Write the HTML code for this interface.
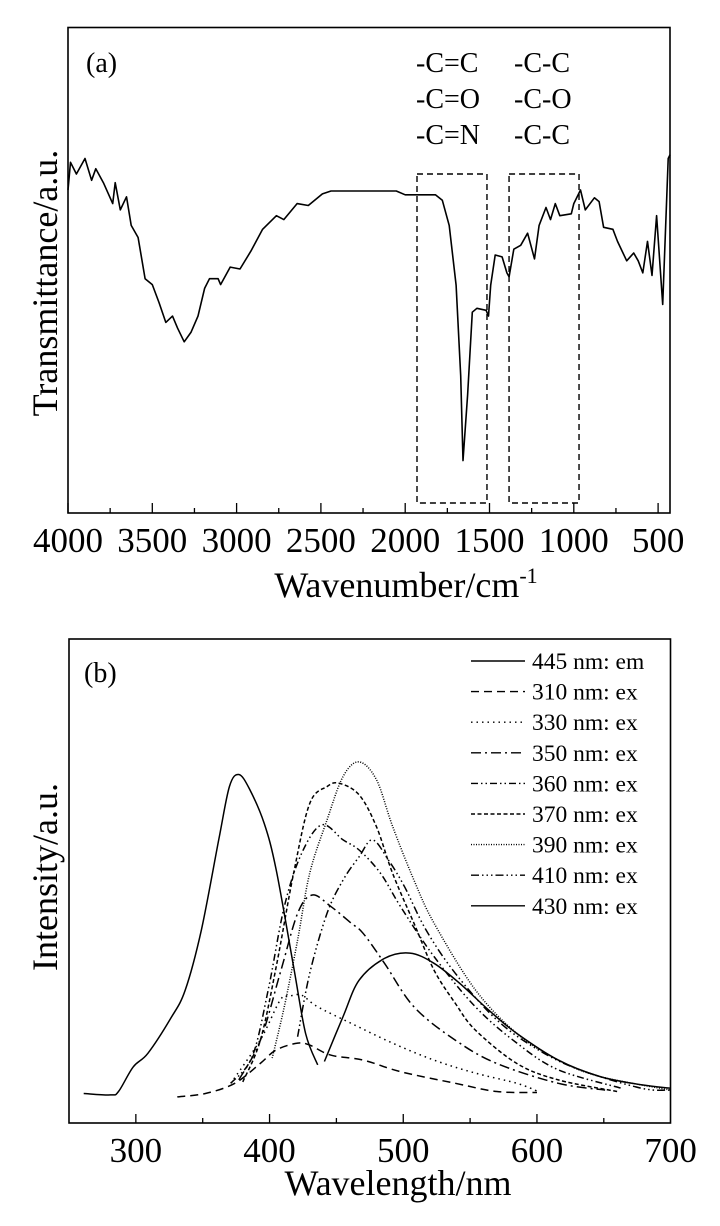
<!DOCTYPE html>
<html><head><meta charset="utf-8"><style>
html,body{margin:0;padding:0;background:#fff;}
svg{display:block;font-family:"Liberation Serif","DejaVu Serif",serif;}
</style></head><body>
<svg id="fig" width="720" height="1226" viewBox="0 0 720 1226" xmlns="http://www.w3.org/2000/svg">
<g id="panelA"></g>
<g id="panelB"></g>
</svg>
<script>
// ---- Panel (a) FTIR data ----
const ftirWavenumber = [4000,3985,3950,3899,3860,3835,3790,3735,3720,3690,3653,3625,3584,3543,3500,3460,3420,3380,3350,3311,3270,3229,3190,3161,3110,3095,3038,2980,2915,2846,2764,2720,2641,2575,2491,2440,2053,2000,1821,1780,1739,1698,1671,1657,1630,1602,1575,1520,1506,1493,1466,1425,1397,1384,1356,1315,1274,1233,1206,1165,1138,1110,1083,1015,1000,960,932,878,850,823,768,741,686,645,618,591,563,536,509,473,440,429];
const ftirValue = [66.6,72.3,69.9,73.1,68.6,71.0,68.1,63.8,68.1,62.5,65.2,59.3,56.8,48.3,47.1,43.4,39.3,40.6,38.1,35.3,37.3,40.6,46.3,48.3,48.3,47.1,50.7,50.3,54.0,58.5,61.3,60.5,63.8,63.4,65.8,66.4,66.4,65.6,65.6,64.5,59.3,47.0,28.3,10.8,24.3,41.4,42.2,41.8,40.6,47.0,53.2,52.8,49.5,48.7,54.4,55.2,57.7,52.4,59.3,63.0,60.5,63.8,61.3,61.7,63.8,66.6,62.5,65.0,64.2,58.9,58.5,56.0,52.0,53.6,52.0,49.5,56.0,49.0,61.3,43.0,73.1,73.9];
const ftirTicks = [4000,3500,3000,2500,2000,1500,1000,500];
const ftirBoxes = [[1930,1515],[1384,969]];
const bondLabels1 = ["-C=C","-C=O","-C=N"];
const bondLabels2 = ["-C-C","-C-O","-C-C"];

// ---- Panel (b) PL data ----
const plTicks = [300,400,500,600,700];
const emNm = [261,281,287,298,309,326,337,349,362,370,377,385,396,405,418,427,436];
const emVal = [6.1,5.8,6.5,11.6,14.4,21.6,27.5,39.9,58.5,69.5,72.0,69.0,61.9,52.3,32.3,18.5,12.0];
const ex310Nm = [331,352,374,393,405,421,430,446,470,498,539,570,600];
const ex310Val = [5.4,6.1,8.2,12.3,15.1,16.5,16.1,14.0,13.0,10.6,8.2,6.5,6.3];
const ex330Nm = [371,393,408,415,424,436,461,492,523,554,585,601];
const ex330Val = [8.2,17.1,25.4,26.2,26.4,24.0,20.6,16.5,13.0,10.3,8.2,6.5];
const ex350Nm = [377,393,408,421,432,446,461,470,486,508,539,570,616,651];
const ex350Val = [8.9,17.0,31.0,43.3,47.1,44.7,41.3,39.2,33.0,24.0,17.1,12.3,8.2,6.8];
const ex360Nm = [371,387,399,411,424,439,455,467,483,498,523,554,585,616,663];
const ex360Val = [8.2,13.7,27.5,44.7,55.7,61.6,58.5,56.4,51.6,44.7,34.4,24.0,16.5,11.0,7.2];
const ex370Nm = [380,393,405,418,430,443,452,467,480,492,508,523,539,554,585,616,660];
const ex370Val = [8.5,17.0,32.3,51.6,66.0,69.5,70.2,67.8,61.2,51.6,41.3,31.6,24.7,19.2,12.3,8.9,6.5];
const ex390Nm = [402,411,421,430,443,455,467,480,492,508,523,554,585,616,647,700];
const ex390Val = [13.4,24.0,37.8,51.6,62.6,71.6,74.6,70.9,61.3,50.2,41.3,27.5,18.5,13.0,9.6,6.8];
const ex410Nm = [421,430,443,455,467,477,489,501,517,539,570,601,632,678,700];
const ex410Val = [17.8,30.9,43.3,50.2,55.0,58.5,54.3,48.8,39.9,30.9,21.3,15.1,11.0,7.2,6.8];
const ex430Nm = [441,455,467,486,505,523,542,564,585,616,647,678,700];
const ex430Val = [12.7,22.0,29.5,34.0,35.1,33.0,28.9,23.3,18.5,13.0,9.6,7.9,7.2];
const legendLabels = ["445 nm: em","310 nm: ex","330 nm: ex","350 nm: ex","360 nm: ex","370 nm: ex","390 nm: ex","410 nm: ex","430 nm: ex"];

const NS="http://www.w3.org/2000/svg";
function mk(tag, parent, attrs){const e=document.createElementNS(NS,tag);for(const k in attrs)e.setAttribute(k,attrs[k]);parent.appendChild(e);return e;}

const xA = wn => 68 + (4000 - wn) * 0.1686;
const yA = v => 513 - v * 4.85;
const xB = nm => 69 + (nm - 250) * 1.337;
const yB = v => 1123 - v * 4.84;

const panelA = document.getElementById('panelA');
const panelB = document.getElementById('panelB');

// ---- panel a ----
const f = mk('rect', panelA, {x:68,y:27.5,width:602,height:485.5,fill:'none',stroke:'#000','stroke-width':1.6});


for (let w=4000; w>=500; w-=250){
  const major = (w%500===0);
  const t = mk('line', panelA, {x1:xA(w),x2:xA(w),y1:513,y2:513-(major?10:5),stroke:'#000','stroke-width':1.3});
  
  
}
ftirTicks.forEach(w=>{
  const t = mk('text', panelA, {x:xA(w),y:552,'font-size':35,'text-anchor':'middle'});
  t.textContent = w;
  
  
});
const dA = ftirWavenumber.map((w,i)=>(i?'L':'M')+xA(w).toFixed(1)+','+yA(ftirValue[i]).toFixed(1)).join('');
const pA = mk('path', panelA, {d:dA,fill:'none',stroke:'#000','stroke-width':1.6,'stroke-linejoin':'round'});


ftirBoxes.forEach(b=>{
  const r = mk('rect', panelA, {x:xA(b[0]),y:174,width:xA(b[1])-xA(b[0]),height:329,fill:'none',stroke:'#000','stroke-width':1.4,'stroke-dasharray':'6 4'});
  
  
});
bondLabels1.forEach((s,i)=>{
  const t = mk('text', panelA, {x:416,y:72+i*36,'font-size':28});
  t.textContent = s;
  
  
});
bondLabels2.forEach((s,i)=>{
  const t = mk('text', panelA, {x:514,y:72+i*36,'font-size':28});
  t.textContent = s;
  
  
});
const ta = mk('text', panelA, {x:86,y:72,'font-size':28}); ta.textContent='(a)';


const yl = mk('text', panelA, {x:0,y:0,'font-size':36,'text-anchor':'middle',transform:'translate(57,283) rotate(-90)'});
yl.textContent='Transmittance/a.u.';


const xl = mk('text', panelA, {x:406,y:597,'font-size':36,'text-anchor':'middle'});
xl.textContent='Wavenumber/cm';
const sup = mk('tspan', xl, {dy:-14,'font-size':22});
sup.textContent='-1';



// ---- panel b ----
const f2 = mk('rect', panelB, {x:69,y:639,width:601.5,height:484,fill:'none',stroke:'#000','stroke-width':1.6});


for (let n=300; n<700; n+=50){
  const major = (n%100===0);
  const t = mk('line', panelB, {x1:xB(n),x2:xB(n),y1:1123,y2:1123-(major?9:5),stroke:'#000','stroke-width':1.3});
  
  
}
plTicks.forEach(n=>{
  const t = mk('text', panelB, {x:xB(n),y:1162,'font-size':35,'text-anchor':'middle'});
  t.textContent = n;
  
  
});
function smooth(xs, ys){
  const P = xs.map((x,i)=>[xB(x), yB(ys[i])]);
  let s = 'M'+P[0][0].toFixed(1)+','+P[0][1].toFixed(1);
  for (let i=0;i<P.length-1;i++){
    const p0=P[Math.max(0,i-1)],p1=P[i],p2=P[i+1],p3=P[Math.min(P.length-1,i+2)];
    const c1=[p1[0]+(p2[0]-p0[0])/6,p1[1]+(p2[1]-p0[1])/6];
    const c2=[p2[0]-(p3[0]-p1[0])/6,p2[1]-(p3[1]-p1[1])/6];
    s+='C'+c1[0].toFixed(1)+','+c1[1].toFixed(1)+' '+c2[0].toFixed(1)+','+c2[1].toFixed(1)+' '+p2[0].toFixed(1)+','+p2[1].toFixed(1);
  }
  return s;
}
const dashes = ['', '8 5', '1.5 4', '10 4 2 4', '7 3 1.5 3 1.5 3', '4 2.5', '1 1.5', '8 3 1.5 3 1.5 3 1.5 3', ''];
const seriesX = [emNm,ex310Nm,ex330Nm,ex350Nm,ex360Nm,ex370Nm,ex390Nm,ex410Nm,ex430Nm];
const seriesY = [emVal,ex310Val,ex330Val,ex350Val,ex360Val,ex370Val,ex390Val,ex410Val,ex430Val];
const seriesNames = ['em-445','ex-310','ex-330','ex-350','ex-360','ex-370','ex-390','ex-410','ex-430'];
seriesX.forEach((xs,k)=>{
  const a = {d:smooth(xs,seriesY[k]),fill:'none',stroke:'#000','stroke-width':1.5};
  if (dashes[k]) a['stroke-dasharray']=dashes[k];
  const c = mk('path', panelB, a);
  
  
});
legendLabels.forEach((s,i)=>{
  const y = 661 + i*30.6;
  const a = {x1:471,x2:525,y1:y,y2:y,stroke:'#000','stroke-width':1.4};
  if (dashes[i]) a['stroke-dasharray']=dashes[i];
  const l = mk('line', panelB, a);
  
  
  const t = mk('text', panelB, {x:532,y:y+8,'font-size':23.5});
  t.textContent = s;
  
  
});
const tb = mk('text', panelB, {x:84,y:682,'font-size':28}); tb.textContent='(b)';


const yl2 = mk('text', panelB, {x:0,y:0,'font-size':36,'text-anchor':'middle',transform:'translate(57,877) rotate(-90)'});
yl2.textContent='Intensity/a.u.';


const xl2 = mk('text', panelB, {x:398,y:1195,'font-size':36,'text-anchor':'middle'});
xl2.textContent='Wavelength/nm';


</script>
</body></html>
